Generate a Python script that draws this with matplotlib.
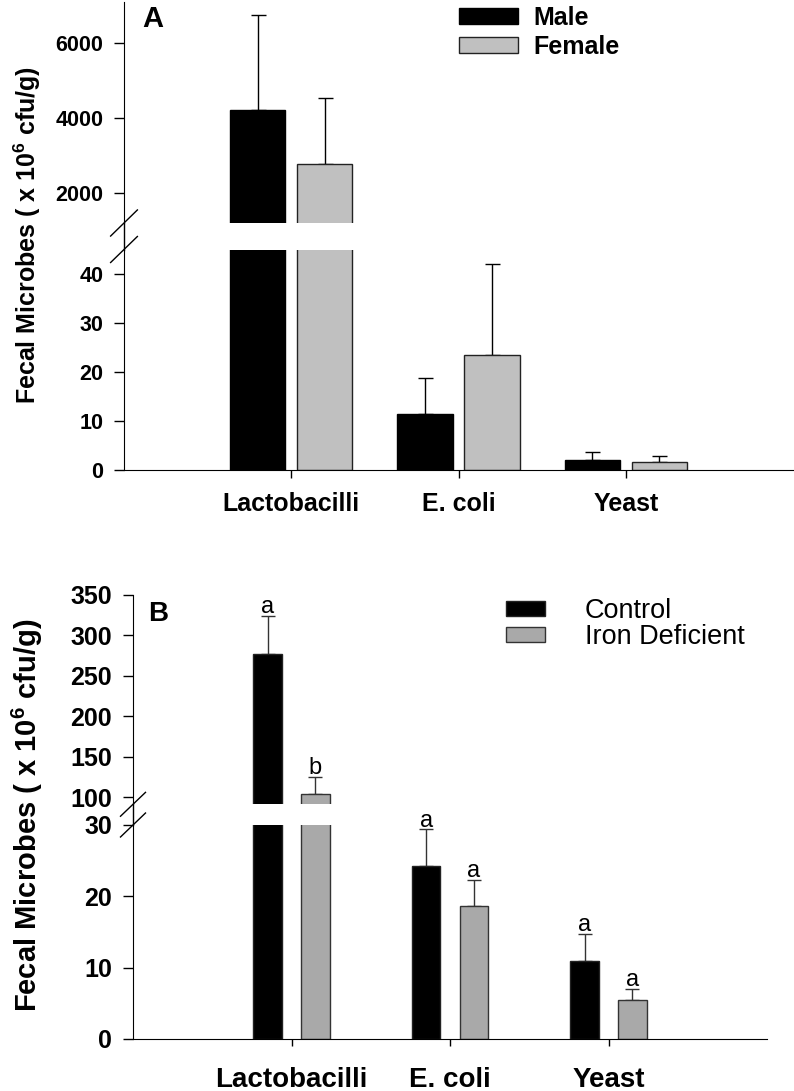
import numpy as np
import matplotlib
matplotlib.use('Agg')
from matplotlib import pyplot as plt
from matplotlib.lines import Line2D

plt.rcParams['font.family'] = ['Liberation Sans', 'DejaVu Sans']
plt.rcParams['mathtext.fontset'] = 'custom'
plt.rcParams['mathtext.rm'] = 'Liberation Sans'
plt.rcParams['mathtext.bf'] = 'Liberation Sans:bold'

categories = ['Lactobacilli', 'E. coli', 'Yeast']

# Panel A: male vs female
male_mean = [4200, 11.4, 2.0]
male_err = [2550, 7.4, 1.7]
female_mean = [2770, 23.5, 1.6]
female_err = [1750, 18.5, 1.3]

# Panel B: control vs iron deficient diet
control_mean = [277, 24.3, 10.9]
control_err = [47, 5.1, 3.8]
iron_mean = [104, 18.6, 5.4]
iron_err = [21, 3.7, 1.6]
control_letters = ['a', 'a', 'a']
iron_letters = ['b', 'a', 'a']

ylab = r'Fecal Microbes ( x 10$^{\mathbf{6}}$ cfu/g)'

W, H = 794, 1091
fig = plt.figure(figsize=(W / 100, H / 100), dpi=100)

def px_axes(left, right, top, bottom):
    return fig.add_axes([left / W, 1 - bottom / H, (right - left) / W, (bottom - top) / H])

def broken_pair(ax_top, ax_bot, dx, dy_top, dy_bot):
    # join the y axis line across the gap and draw the break marks
    b = ax_top.get_position()
    t = ax_bot.get_position()
    fig.add_artist(Line2D([b.x0, b.x0], [t.y1, b.y0], color='black', lw=1))
    ax_top.plot([-dx, dx], [-dy_top, dy_top], transform=ax_top.transAxes,
                color='black', lw=1, clip_on=False)
    ax_bot.plot([-dx, dx], [1 - dy_bot, 1 + dy_bot], transform=ax_bot.transAxes,
                color='black', lw=1, clip_on=False)

x = np.arange(1, len(categories) + 1)

# ---------------- Panel A ----------------
axA_top = px_axes(124, 793, 1.75, 223)
axA_bot = px_axes(124, 793, 249.5, 470)
gray_a = '#c0c0c0'
for ax in (axA_top, axA_bot):
    ax.bar(x - 0.2, male_mean, 0.33, color='black', edgecolor='black', lw=1, label='Male', zorder=2)
    ax.bar(x + 0.2, female_mean, 0.33, color=gray_a, edgecolor='#222222', lw=1, label='Female', zorder=2)
    ax.errorbar(x - 0.2, male_mean, yerr=[np.zeros(3), male_err], fmt='none',
                ecolor='black', elinewidth=1, capsize=5.4, capthick=1, zorder=1)
    ax.errorbar(x + 0.2, female_mean, yerr=[np.zeros(3), female_err], fmt='none',
                ecolor='black', elinewidth=1, capsize=5.4, capthick=1, zorder=1)
    ax.set_xlim(0, 4)
    for s in ('top', 'right'):
        ax.spines[s].set_visible(False)
    ax.tick_params(axis='y', direction='out', length=7, width=1, labelsize=15.5, pad=8)

axA_top.set_ylim(1200, 7100)
axA_top.set_yticks([2000, 4000, 6000])
axA_top.spines['bottom'].set_visible(False)
axA_top.set_xticks([])
axA_bot.set_ylim(0, 45)
axA_bot.set_yticks([0, 10, 20, 30, 40])
axA_bot.set_xticks(x)
axA_bot.set_xticklabels(categories, fontsize=18, fontweight='bold')
axA_bot.tick_params(axis='x', direction='out', length=6, width=1, pad=10)
for ax in (axA_top, axA_bot):
    for lab in ax.get_yticklabels():
        lab.set_fontweight('bold')

broken_pair(axA_top, axA_bot, 0.02, 0.059, 0.059)

axA_top.legend(loc='upper left', bbox_to_anchor=(459 / W, 1 - 6 / H), bbox_transform=fig.transFigure,
               frameon=False, borderpad=0, borderaxespad=0, handlelength=2.36, handleheight=0.6,
               handletextpad=0.6, labelspacing=0.18, prop=dict(weight='bold', size=18))
fig.text(142 / W, 1 - 5 / H, 'A', fontsize=21, fontweight='bold', va='top', ha='left')
fig.text(27 / W, 1 - 235 / H, ylab, rotation=90, fontsize=18, fontweight='bold',
         va='center', ha='center')

# ---------------- Panel B ----------------
axB_top = px_axes(133, 767, 595, 804.3)
axB_bot = px_axes(133, 767, 825, 1039)
gray_b = '#a9a9a9'
for ax in (axB_top, axB_bot):
    ax.bar(x - 0.15, control_mean, 0.18, color='black', edgecolor='#222222', lw=1, label='Control', zorder=2)
    ax.bar(x + 0.15, iron_mean, 0.18, color=gray_b, edgecolor='#333333', lw=1, label='Iron Deficient', zorder=2)
    ax.errorbar(x - 0.15, control_mean, yerr=[np.zeros(3), control_err], fmt='none',
                ecolor='#333333', elinewidth=1, capsize=4.7, capthick=1, zorder=1)
    ax.errorbar(x + 0.15, iron_mean, yerr=[np.zeros(3), iron_err], fmt='none',
                ecolor='#333333', elinewidth=1, capsize=4.7, capthick=1, zorder=1)
    ax.set_xlim(0, 4)
    for s in ('top', 'right'):
        ax.spines[s].set_visible(False)
    ax.tick_params(axis='y', direction='out', length=7, width=1, labelsize=18, pad=8)

axB_top.set_ylim(91, 350)
axB_top.set_yticks([100, 150, 200, 250, 300, 350])
axB_top.spines['bottom'].set_visible(False)
axB_top.set_xticks([])
axB_bot.set_ylim(0, 30)
axB_bot.set_yticks([0, 10, 20, 30])
axB_bot.set_xticks(x)
axB_bot.set_xticklabels(categories, fontsize=20, fontweight='bold')
axB_bot.tick_params(axis='x', direction='out', length=5, width=1, pad=15)
for ax in (axB_top, axB_bot):
    for lab in ax.get_yticklabels():
        lab.set_fontweight('bold')

# significance letters above the error bars
for xs, means, errs, letters in ((x - 0.15, control_mean, control_err, control_letters),
                                 (x + 0.15, iron_mean, iron_err, iron_letters)):
    for xi, m, e, let in zip(xs, means, errs, letters):
        top = m + e
        ax = axB_top if top > axB_bot.get_ylim()[1] else axB_bot
        ax.annotate(let, (xi, top), xytext=(0, 2), textcoords='offset points',
                    ha='center', va='baseline', fontsize=17)

broken_pair(axB_top, axB_bot, 0.0197, 0.057, 0.056)

axB_top.legend(loc='upper left', bbox_to_anchor=(506 / W, 1 - 598 / H), bbox_transform=fig.transFigure,
               frameon=False, borderpad=0, borderaxespad=0, handlelength=1.45, handleheight=0.52,
               handletextpad=1.45, labelspacing=0.0, prop=dict(size=19.5))
fig.text(148 / W, 1 - 601 / H, 'B', fontsize=20, fontweight='bold', va='top', ha='left')
fig.text(27 / W, 1 - 815 / H, ylab, rotation=90, fontsize=21, fontweight='bold',
         va='center', ha='center')

plt.savefig('out.png', dpi=100)
